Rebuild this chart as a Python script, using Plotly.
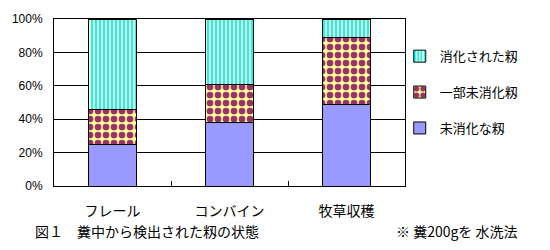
import plotly.graph_objects as go

categories = ["フレール", "コンバイン", "牧草収穫"]
undigested = [25, 38, 49]          # 未消化な籾
partly = [21, 23, 40]              # 一部未消化籾
digested = [54, 39, 11]            # 消化された籾
y_ticks = [0, 20, 40, 60, 80, 100]
y_tick_labels = ["0%", "20%", "40%", "60%", "80%", "100%"]

FONT = "Noto Sans CJK JP"

fig = go.Figure()
fig.add_trace(go.Bar(
    x=categories, y=undigested, name="未消化な籾", legendgroup="a", legendrank=3,
    marker=dict(color="#9999FF", line=dict(color="black", width=1)),
))
fig.add_trace(go.Bar(
    x=categories, y=partly, name="一部未消化籾", legendgroup="b", legendrank=2,
    marker=dict(color="#FFFF99", line=dict(color="black", width=1),
                pattern=dict(shape=".", fgcolor="#993366", bgcolor="#FFFF99",
                             size=8, solidity=0.55, fillmode="replace")),
))
fig.add_trace(go.Bar(
    x=categories, y=digested, name="消化された籾", legendgroup="c", legendrank=1,
    marker=dict(color="#FFFFCC", line=dict(color="black", width=1),
                pattern=dict(shape="|", fgcolor="#00FFFF", bgcolor="#FFFFCC",
                             size=4, solidity=0.5, fillmode="replace")),
))

fig.update_layout(
    barmode="stack",
    bargap=0.593,
    width=550, height=250,
    margin=dict(l=51, r=145, t=14, b=64),
    paper_bgcolor="white", plot_bgcolor="white",
    font=dict(family=FONT, size=13, color="black"),
    showlegend=True,
    legend=dict(
        x=0.985, xanchor="left", y=0.867, yanchor="top",
        traceorder="grouped", tracegroupgap=16,
        font=dict(family=FONT, size=13, color="black"),
        bgcolor="rgba(0,0,0,0)", itemwidth=30,
    ),
    xaxis=dict(
        showline=True, linecolor="black", linewidth=1, mirror=True,
        tickson="boundaries", ticks="inside", ticklen=5, tickcolor="black",
        tickfont=dict(family=FONT, size=14), ticklabelstandoff=12,
        showgrid=False,
    ),
    yaxis=dict(
        range=[0, 100], tickvals=y_ticks, ticktext=y_tick_labels,
        showline=True, linecolor="black", linewidth=1, mirror=True,
        showgrid=True, gridcolor="black", gridwidth=1,
        ticks="", tickfont=dict(family="Liberation Sans", size=12),
        ticklabelstandoff=8, zeroline=False,
    ),
    annotations=[
        dict(text="図１　糞中から検出された籾の状態", xref="paper", yref="paper",
             x=-0.06, y=-0.27, xanchor="left", yanchor="middle", showarrow=False,
             font=dict(family=FONT, size=14)),
        dict(text="※ 糞200gを 水洗法", xref="paper", yref="paper",
             x=1.325, y=-0.27, xanchor="right", yanchor="middle", showarrow=False,
             font=dict(family=FONT, size=14)),
    ],
)

fig.write_html("out.html")
